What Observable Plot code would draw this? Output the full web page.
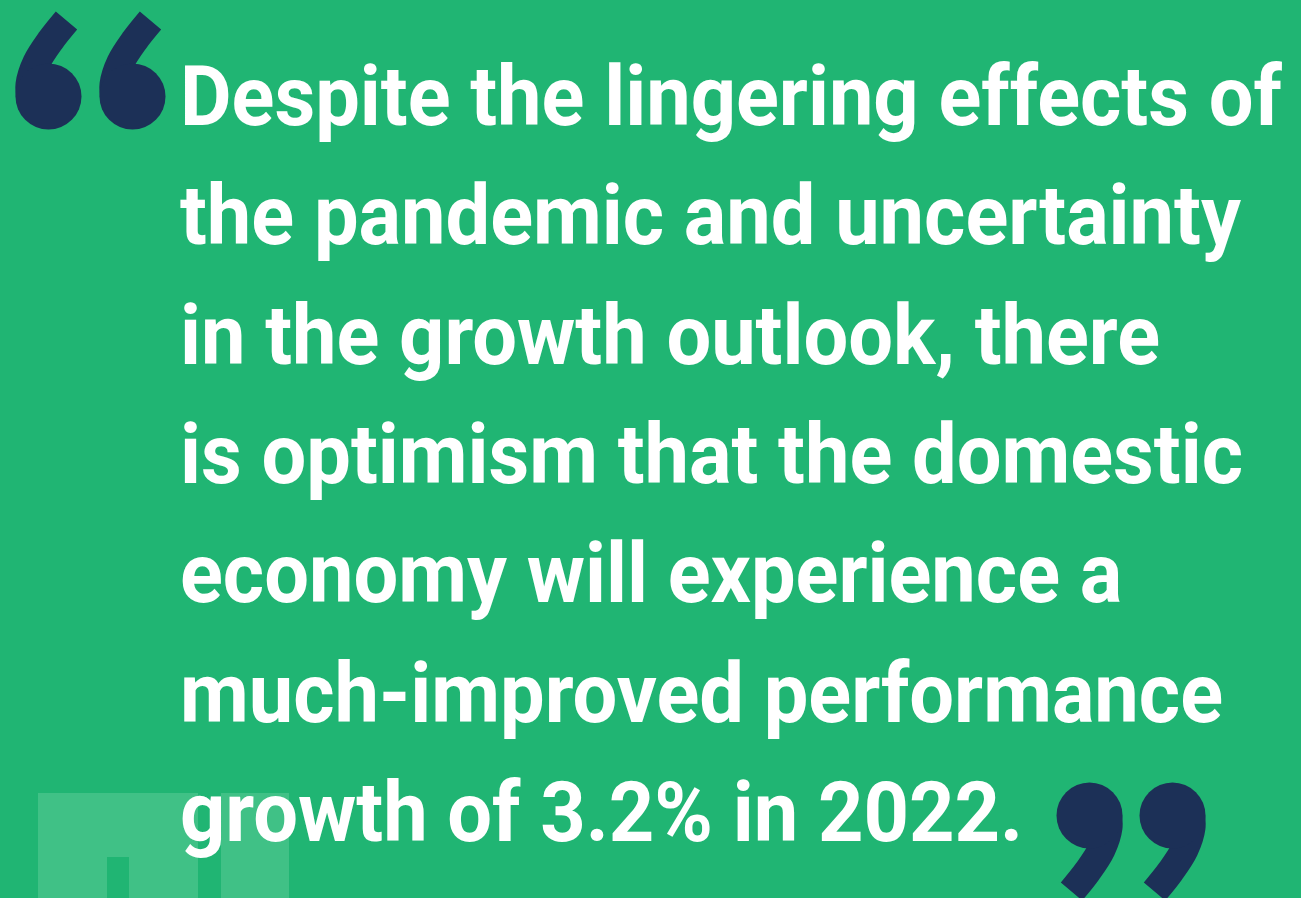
<!DOCTYPE html>
<html>
<head>
<meta charset="utf-8">
<script src="https://cdn.jsdelivr.net/npm/d3@7"></script>
<script src="https://cdn.jsdelivr.net/npm/@observablehq/plot@0.6"></script>
<style>
  html, body { margin: 0; padding: 0; background: #20B573; overflow: hidden; }
  #chart svg { display: block; }
</style>
</head>
<body>
<div id="chart"></div>
<script>
// ---- Content ----
const quoteLines = [
  "Despite the lingering effects of",
  "the pandemic and uncertainty",
  "in the growth outlook, there",
  "is optimism that the domestic",
  "economy will experience a",
  "much-improved performance",
  "growth of 3.2% in 2022."
];
// quotation-mark glyphs: ball centre of each comma and its orientation (1 = opening "6", -1 = closing "9")
const quoteGlyphs = [
  {id: "open-1", cx: 48, cy: 96, dir: 1},
  {id: "open-2", cx: 132, cy: 96, dir: 1},
  {id: "close-1", cx: 1089, cy: 815, dir: -1},
  {id: "close-2", cx: 1172, cy: 815, dir: -1}
];
// centre-line of a comma's tail, relative to its ball (opening orientation)
const commaTail = [
  [18, -76], [2, -56], [-12, -34], [-19, -12], [-18, 4]
];
// decorative light blocks in the lower-left corner (page units)
const decorBlocks = [
  {x1: 38, x2: 198, y1: 793, y2: 898, tone: "light"},
  {x1: 107, x2: 129, y1: 857, y2: 898, tone: "bg"},
  {x1: 221, x2: 289, y1: 793, y2: 898, tone: "light"}
];

// ---- Layout ----
const W = 1301, H = 898;
const textLeft = 180, firstBaseline = 125, leading = 119.3, fontSize = 84;
const firstLineWidth = 1103;
const ballRadius = 33, tailWidth = 28;

const palette = {bg: "#20B573", light: "#40C186", navy: "#1C3057", text: "#FFFFFF"};

const lineData = quoteLines.map((t, i) => ({text: t, i}));
const tailData = quoteGlyphs.flatMap(g =>
  commaTail.map(([dx, dy]) => ({id: g.id, x: g.cx + g.dir * dx, y: g.cy + g.dir * dy}))
);

const plot = Plot.plot({
  width: W,
  height: H,
  margin: 0,
  x: {domain: [0, W], range: [0, W], axis: null},
  y: {domain: [0, H], range: [0, H], axis: null},
  style: {background: palette.bg, fontFamily: "Roboto, sans-serif"},
  marks: [
    Plot.rect(decorBlocks, {
      x1: "x1", x2: "x2", y1: "y1", y2: "y2",
      fill: d => palette[d.tone]
    }),
    Plot.line(tailData, {
      x: "x", y: "y", z: "id",
      curve: "catmull-rom",
      stroke: palette.navy,
      strokeWidth: tailWidth,
      strokeLinecap: "butt",
      strokeLinejoin: "round"
    }),
    Plot.dot(quoteGlyphs, {
      x: "cx", y: "cy",
      r: ballRadius,
      fill: palette.navy,
      stroke: null
    }),
    Plot.text(lineData, {
      x: () => textLeft,
      y: d => firstBaseline + d.i * leading,
      text: "text",
      fill: palette.text,
      fontSize: fontSize,
      fontWeight: 700,
      textAnchor: "start",
      lineAnchor: "bottom"
    })
  ]
});
document.getElementById("chart").append(plot);

// Fit the quote's set width to the reference's narrow display face
const groups = plot.querySelectorAll('g[aria-label="text"]');
const body = groups[groups.length - 1];
const first = body.querySelector("text");
const w = first.getBBox().width;
const k = firstLineWidth / w;
body.setAttribute("transform", `translate(${textLeft},0) scale(${k},1) translate(${-textLeft},0)`);
</script>
</body>
</html>
